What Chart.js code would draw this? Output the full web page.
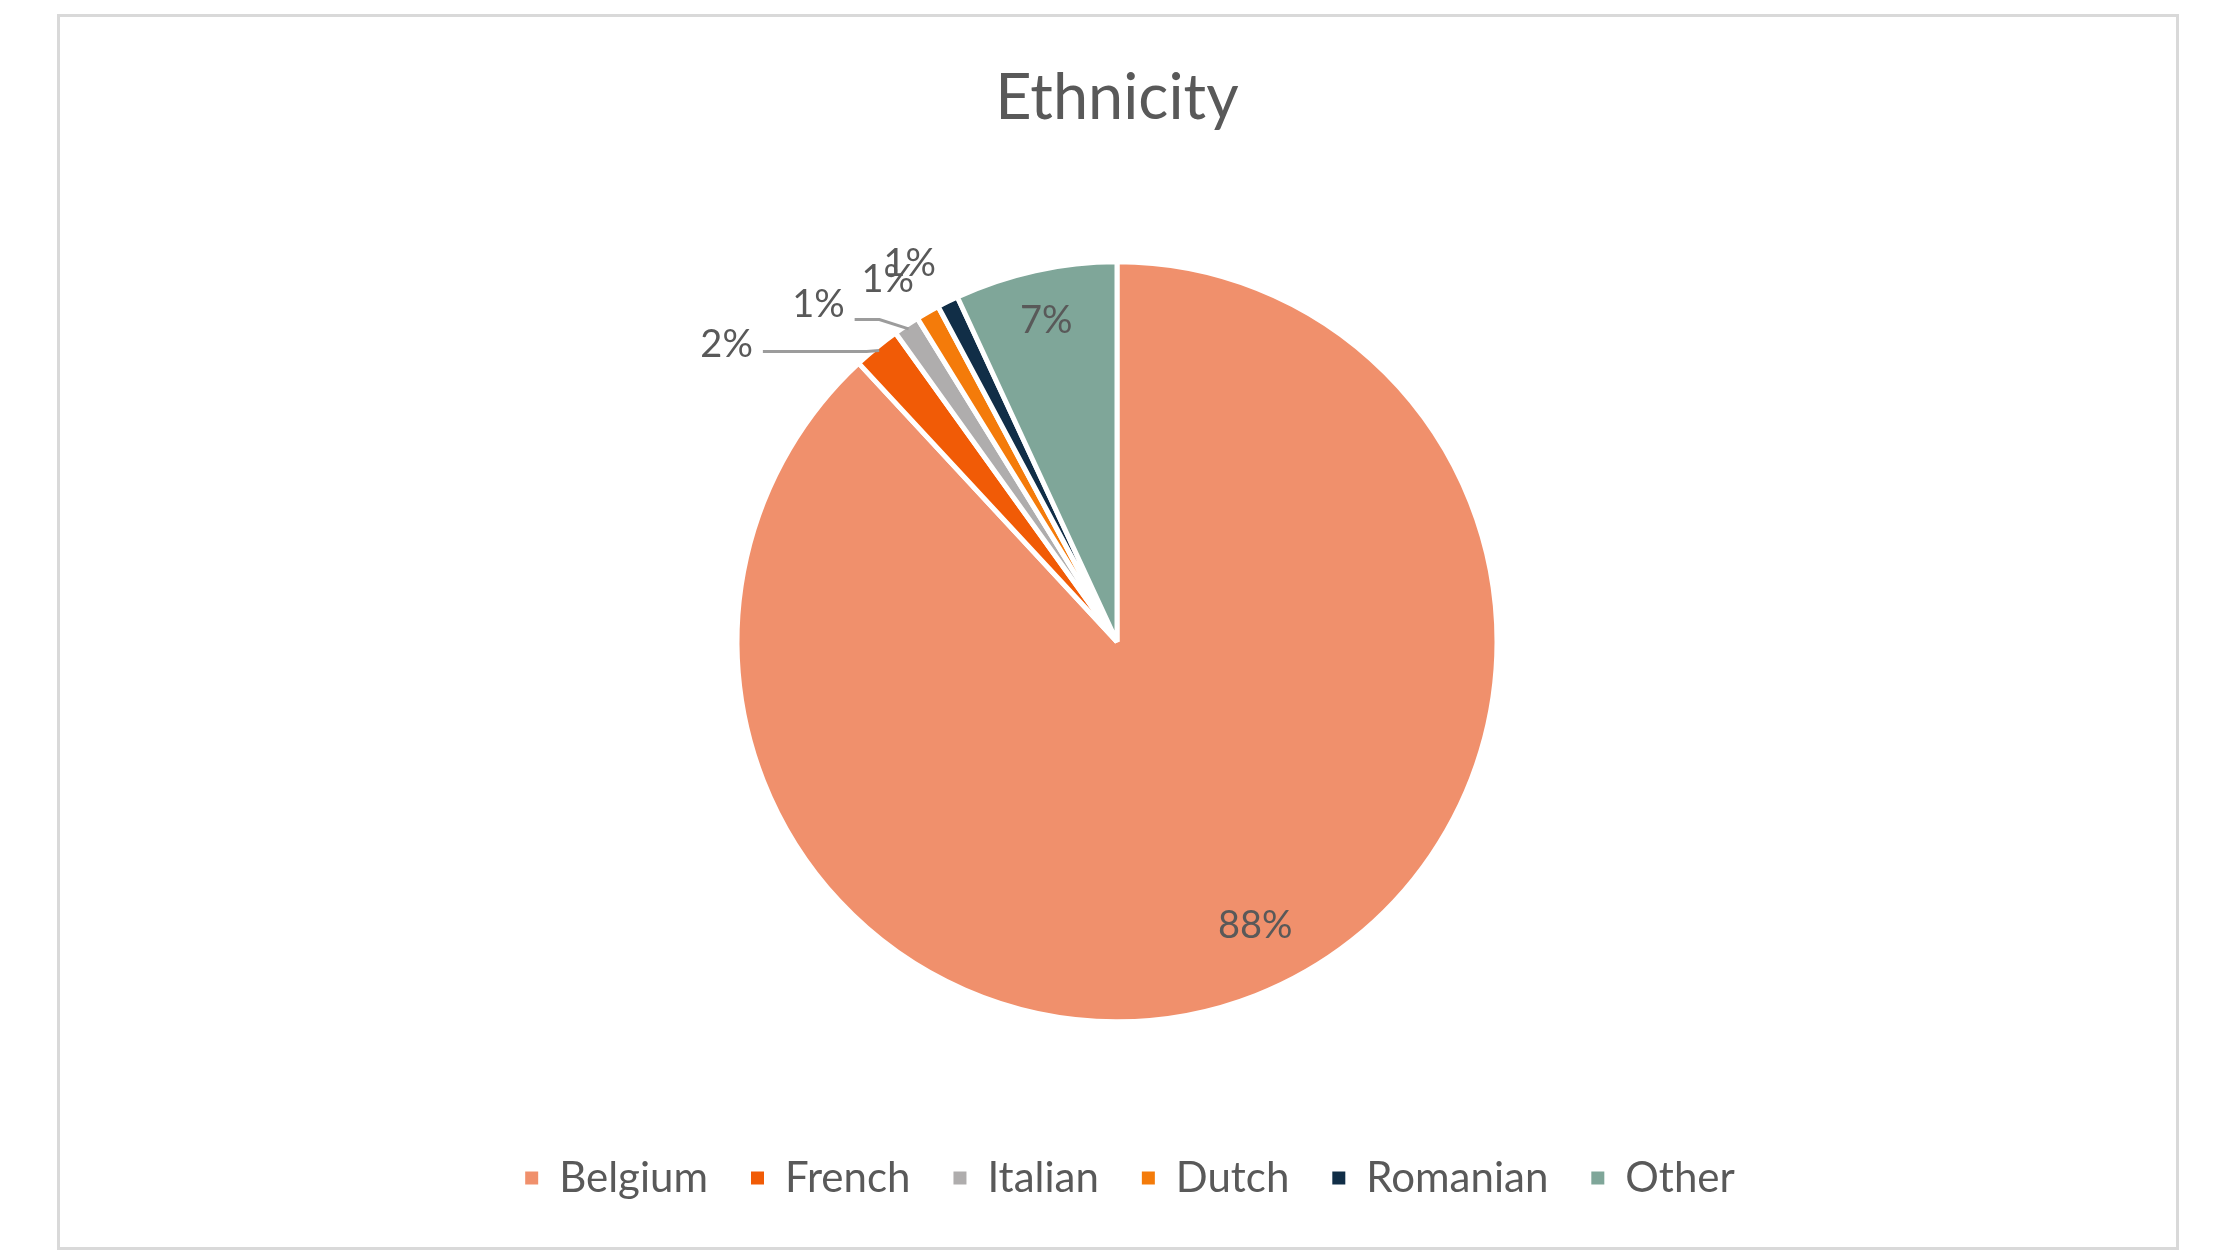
<!DOCTYPE html>
<html>
<head>
<meta charset="utf-8">
<script src="https://cdn.jsdelivr.net/npm/chart.js@4/dist/chart.umd.min.js"></script>
<style>
  html, body { margin: 0; padding: 0; background: #ffffff; width: 2240px; height: 1260px; overflow: hidden; }
  #frame { position: absolute; left: 57px; top: 14px; width: 2116px; height: 1230px; border: 3px solid #d9d9d9; }
  #c { position: absolute; left: 0; top: 0; }
</style>
</head>
<body>
<div id="frame"></div>
<canvas id="c" width="2240" height="1260"></canvas>
<script>
// ---- data ----
const chartTitle = 'Ethnicity';
const categories = ['Belgium', 'French', 'Italian', 'Dutch', 'Romanian', 'Other'];
const shares = [88.1, 2.0, 1.1, 1.0, 0.9, 6.9];

// ---- styles ----
const sliceColors = ['#F0906C', '#F15B06', '#AFADAD', '#F47B0A', '#112E47', '#7FA699'];
const textColor = '#595959';
const fontFamily = 'Lato, "Open Sans", sans-serif';

// label placement relative to each slice (inside: fraction of radius; outside: offset from edge midpoint)
const labelPlacement = [
  { inside: true, r: 0.83, dx: 23, dy: -10 },
  { inside: false, dx: -150, dy: -3, leader: { startDy: 7, elbowDx: -10 } },
  { inside: false, dx: -88, dy: -21, leader: { startDy: 15, elbowDx: -27 } },
  { inside: false, dx: -40, dy: -33 },
  { inside: false, dx: -38, dy: -38 },
  { inside: true, r: 0.866, dx: 0, dy: 0 }
];

const sliceLabels = {
  id: 'sliceLabels',
  afterDatasetsDraw(chart, args, opts) {
    const meta = chart.getDatasetMeta(0);
    const ds = chart.data.datasets[0];
    const total = ds.data.reduce((a, b) => a + b, 0);
    const ctx = chart.ctx;
    ctx.save();
    ctx.font = opts.fontSize + 'px ' + fontFamily;
    ctx.fillStyle = textColor;
    ctx.textAlign = 'center';
    ctx.textBaseline = 'middle';
    meta.data.forEach((arc, i) => {
      const p = arc.getProps(['x', 'y', 'startAngle', 'endAngle', 'outerRadius'], true);
      const mid = (p.startAngle + p.endAngle) / 2;
      const text = Math.round(ds.data[i] / total * 100) + '%';
      const pl = opts.placement[i];
      let lx, ly;
      if (pl.inside) {
        lx = p.x + Math.cos(mid) * p.outerRadius * pl.r + pl.dx;
        ly = p.y + Math.sin(mid) * p.outerRadius * pl.r + pl.dy;
      } else {
        const ex = p.x + Math.cos(mid) * p.outerRadius;
        const ey = p.y + Math.sin(mid) * p.outerRadius;
        lx = ex + pl.dx;
        ly = ey + pl.dy;
        if (pl.leader) {
          const w = ctx.measureText(text).width;
          const sx = lx + w / 2 + 10;
          const sy = ly + pl.leader.startDy;
          ctx.save();
          ctx.strokeStyle = '#9C9C9C';
          ctx.lineWidth = 3;
          ctx.beginPath();
          ctx.moveTo(sx, sy);
          ctx.lineTo(ex + pl.leader.elbowDx, sy);
          ctx.lineTo(ex - Math.cos(mid) * 4, ey - Math.sin(mid) * 4);
          ctx.stroke();
          ctx.restore();
        }
      }
      ctx.fillText(text, lx, ly);
    });
    ctx.restore();
  }
};

// nudge the legend row slightly to the right, as in the reference
const legendShift = {
  id: 'legendShift',
  afterLayout(chart, args, opts) {
    if (chart.legend) {
      chart.legend.left += opts.dx;
      chart.legend.right += opts.dx;
    }
  }
};

new Chart(document.getElementById('c'), {
  type: 'pie',
  data: {
    labels: categories,
    datasets: [{
      data: shares,
      backgroundColor: sliceColors,
      borderColor: '#ffffff',
      borderWidth: 5
    }]
  },
  options: {
    responsive: false,
    animation: false,
    devicePixelRatio: 1,
    radius: 380,
    layout: { padding: { top: 0, bottom: 51, left: 0, right: 6 } },
    plugins: {
      title: {
        display: true,
        text: chartTitle,
        color: textColor,
        font: { family: fontFamily, size: 63, weight: 'normal' },
        padding: { top: 61, bottom: 33 }
      },
      legend: {
        position: 'bottom',
        labels: {
          boxWidth: 13,
          boxHeight: 13,
          padding: 43,
          color: textColor,
          font: { family: fontFamily, size: 42 },
          generateLabels(chart) {
            return Chart.overrides.pie.plugins.legend.labels.generateLabels(chart).map(l => Object.assign(l, { lineWidth: 0 }));
          }
        }
      },
      tooltip: { enabled: false },
      sliceLabels: { fontSize: 38, placement: labelPlacement },
      legendShift: { dx: 13 }
    }
  },
  plugins: [sliceLabels, legendShift]
});
</script>
</body>
</html>
